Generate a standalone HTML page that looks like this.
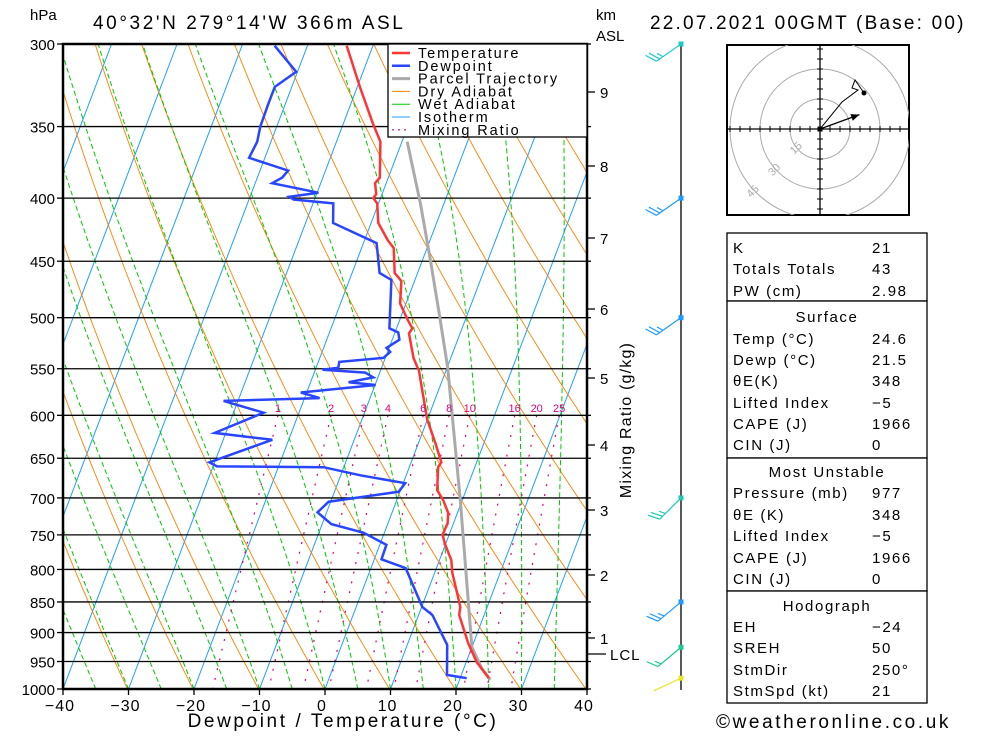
<!DOCTYPE html>
<html><head><meta charset="utf-8"><style>
html,body{margin:0;padding:0;background:#fff;}
body{width:1000px;height:733px;overflow:hidden;position:relative;font-family:"Liberation Sans",sans-serif;}
svg text{font-family:"Liberation Sans",sans-serif;}
</style></head><body>
<svg id="chart" width="1000" height="733" viewBox="0 0 1000 733" xmlns="http://www.w3.org/2000/svg">
<defs><clipPath id="plotclip"><rect x="63" y="44" width="524" height="645"/></clipPath>
<clipPath id="hodoclip"><rect x="727" y="45" width="182" height="170"/></clipPath></defs>
<g id="bg" clip-path="url(#plotclip)"></g>
<g id="series" clip-path="url(#plotclip)"></g>
<g id="axes"></g>
<g id="legend"></g>
<g id="barbs"></g>
<g id="hodo"></g>
<g id="tables"></g>
</svg>
<script>
// ---------- data ----------
const pressureLevels = [300,350,400,450,500,550,600,650,700,750,800,850,900,950,1000];
const tempTicks = [-40,-30,-20,-10,0,10,20,30,40];
const kmLabels = [9,8,7,6,5,4,3,2,1];
const kmY = [92,166,238,309,378,445,510,575,638];
const mixRatios = [1,2,3,4,6,8,10,16,20,25];
const tempP = [301,325,348,360,385,389,397,400,404,419,433,439,460,467,487,502,510,515,539,549,551,575,605,632,655,661,690,703,720,734,750,764,786,805,836,858,871,918,951,980];
const tempT = [-34.0,-29.6,-25.5,-23.3,-21.3,-21.7,-20.9,-21.1,-20.2,-18.9,-16.4,-15.1,-13.5,-12.0,-10.9,-8.8,-7.6,-7.8,-5.7,-4.5,-4.2,-2.3,0.0,2.6,4.6,4.4,5.6,7.1,8.6,9.1,9.0,10.0,11.8,12.7,14.6,15.9,16.2,19.2,21.6,24.4];
const dewP = [301,316,325,336,350,360,371,380,385,389,396,399,401,404,419,435,460,466,510,514,521,529,533,539,543,549,551,554,559,564,567,575,581,584,597,620,628,655,660,661,671,681,692,705,719,735,747,764,785,798,858,871,921,974,980];
const dewT = [-45.0,-40.2,-42.6,-42.6,-42.5,-42.1,-42.4,-35.7,-36.2,-37.4,-29.8,-34.0,-33.2,-26.9,-25.8,-18.0,-15.8,-13.6,-11.1,-9.5,-8.9,-10.4,-9.6,-10.3,-16.8,-16.6,-18.9,-12.2,-10.7,-14.2,-9.9,-20.9,-17.7,-32.2,-25.4,-31.7,-22.5,-30.8,-29.4,-13.1,-7.0,0.3,-0.2,-10.3,-11.4,-8.6,-3.2,1.0,1.1,5.3,10.1,12.1,16.1,17.8,21.0];
const parcelP = [983,962,925,836,703,549,499,449,404,360];
const parcelT = [24.7,22.7,20.0,16.2,9.7,0.1,-4.1,-8.8,-13.6,-19.2];
const barbP = [300,400,500,700,850,925,980];
const barbDir = [235,235,235,225,230,230,245];
const barbSpd = [25,25,25,25,25,15,5];
const barbCol = ["#20c8c8","#1e9bff","#1e9bff","#20c8b4","#1e9bff","#20c896","#e6e628"];
const hodoU = [0,11,19,16,17.5,22];
const hodoV = [0,13.5,19.5,20.5,24.5,18];
const stormU = [19.7];
const stormV = [7.2];

// ---------- scales ----------
const NS="http://www.w3.org/2000/svg";
function yP(p){return 44+Math.log(p/300)/Math.log(1000/300)*645;}
function xT(T,p){return 325+6.55*T+0.38*(689-yP(p));}
function el(tag,attrs,parent,text){const e=document.createElementNS(NS,tag);for(const k in attrs)e.setAttribute(k,attrs[k]);if(text!==undefined)e.textContent=text;parent.appendChild(e);return e;}
const bg=document.getElementById('bg'), series=document.getElementById('series'), axes=document.getElementById('axes');
function pathFrom(ps,ts){return ps.map((p,i)=>(i?'L':'M')+xT(ts[i],p).toFixed(1)+' '+yP(p).toFixed(1)).join(' ');}

// isotherms
for(let T=-120;T<=40;T+=10){const d='M'+xT(T,1000)+' '+yP(1000)+' L'+xT(T,300)+' '+yP(300);
 const e=el('path',{d:d,stroke:'#1ea0ff','stroke-width':1,fill:'none'},bg);
 }
// dry adiabats
for(let th=223;th<=523;th+=10){let ps=[],ts=[];for(let p=300;p<=1000;p+=10){ps.push(p);ts.push(th*Math.pow(p/1000,0.2857)-273.15);}
 const e=el('path',{d:pathFrom(ps,ts),stroke:'#ff8000','stroke-width':0.9,fill:'none'},bg);
 }
// wet adiabats
function es(T){return 6.112*Math.exp(17.67*T/(T+243.5));}
for(let T0=-40;T0<=40;T0+=5){let T=T0,ps=[1000],ts=[T0];
 for(let p=1000;p>300;p-=5){const Tk=T+273.15,rs=0.622*es(T)/(p-es(T));
  const dTdp=(287*Tk+2.5e6*rs)/(p*(1004+2.5e6*2.5e6*rs*0.622/(287*Tk*Tk)));T-=dTdp*5;ps.push(p-5);ts.push(T);}
 const e=el('path',{d:pathFrom(ps,ts),stroke:'#00c800','stroke-width':1,fill:'none','stroke-dasharray':'5,3'},bg);
 }
// mixing ratio
function tdFromW(w,p){const e=w*p/(622+w);const l=Math.log(e/6.112);return 243.5*l/(17.67-l);}
mixRatios.forEach(w=>{let ps=[],ts=[];for(let p=600;p<=1000;p+=10){ps.push(p);ts.push(tdFromW(w,p));}
 const e=el('path',{d:pathFrom(ps,ts),stroke:'#e0007a','stroke-width':1.2,fill:'none','stroke-dasharray':'2,8'},bg);
 
 const t=el('text',{x:xT(tdFromW(w,600),600),y:412,'font-size':11,fill:'#e0007a','text-anchor':'middle'},axes,String(w));
 });
// pressure lines
pressureLevels.forEach(p=>{const y=yP(p);
 const l=el('line',{x1:63,x2:587,y1:y,y2:y,stroke:'#000','stroke-width':1.3},bg);
 
 el('line',{x1:57,x2:63,y1:y,y2:y,stroke:'#000','stroke-width':1.3},axes);
 el('line',{x1:587,x2:591,y1:y,y2:y,stroke:'#000','stroke-width':1.3},axes);
 const t=el('text',{x:55,y:y+6,'font-size':15,'text-anchor':'end'},axes,String(p));
 });
// series
let e1=el('path',{d:pathFrom(parcelP,parcelT),stroke:'#aaaaaa','stroke-width':3,fill:'none'},series);

let e2=el('path',{d:pathFrom(tempP,tempT),stroke:'#ff3535','stroke-width':2.5,fill:'none'},series);

let e3=el('path',{d:pathFrom(dewP,dewT),stroke:'#2846ff','stroke-width':2.5,fill:'none'},series);

// frame
el('rect',{x:63,y:44,width:524,height:645,fill:'none',stroke:'#000','stroke-width':2.5},axes);
tempTicks.forEach(T=>{const x=xT(T,1000);el('line',{x1:x,x2:x,y1:689,y2:695,stroke:'#000','stroke-width':1.3},axes);
 const t=el('text',{x:x-3,y:711,'font-size':16,'text-anchor':'middle','letter-spacing':'1'},axes,(T<0?'\u2212':'')+Math.abs(T));
 });
kmLabels.forEach((k,i)=>{el('line',{x1:587,x2:595,y1:kmY[i],y2:kmY[i],stroke:'#000','stroke-width':1.3},axes);
 const t=el('text',{x:600,y:kmY[i]+6,'font-size':15},axes,String(k));
 });
el('line',{x1:587,x2:606,y1:654,y2:654,stroke:'#000','stroke-width':1.3},axes);
let lt=el('text',{x:610,y:660,'font-size':15,'letter-spacing':'1'},axes,'LCL');
function txt(x,y,s,size,name,extra){const t=el('text',Object.assign({x:x,y:y,'font-size':size},extra||{}),axes,s);return t;}
txt(30,20,'hPa',15,'y-axis-unit');
txt(93,29,"40°32'N  279°14'W  366m  ASL",19,'location-title',{'xml:space':'preserve','letter-spacing':'2.6'});
txt(650,29,'22.07.2021  00GMT  (Base: 00)',19,'date-title',{'xml:space':'preserve','letter-spacing':'2.2'});
txt(596,20,'km',15,'km-axis-unit');txt(596,41,'ASL',15,'km-axis-unit-asl');
txt(343,727,'Dewpoint / Temperature (°C)',19,'x-axis-title',{'text-anchor':'middle','letter-spacing':'2.6'});
txt(0,0,'Mixing Ratio (g/kg)',16,'mixing-ratio-axis-title',{transform:'translate(631,420) rotate(-90)','text-anchor':'middle','letter-spacing':'1.2'});
txt(716,728,'©weatheronline.co.uk',19,'copyright',{'letter-spacing':'2.6'});
// legend
const lg=document.getElementById('legend');
el('rect',{x:388,y:44,width:199,height:93,fill:'#fff',stroke:'#000','stroke-width':1.3},lg);
const legNames=['Temperature','Dewpoint','Parcel Trajectory','Dry Adiabat','Wet Adiabat','Isotherm','Mixing Ratio'];
const legCols=['#ff3535','#2846ff','#aaaaaa','#ff8000','#00c800','#1ea0ff','#e0007a'];
const legW=[2.5,2.5,3,1,1,1,1.2];
legNames.forEach((n,i)=>{const y=53+i*12.8;
 el('line',{x1:392,x2:410,y1:y,y2:y,stroke:legCols[i],'stroke-width':legW[i],'stroke-dasharray':i==6?'2,4':'none'},lg);
 const t=el('text',{x:418,y:y+5,'font-size':14.5,'letter-spacing':'1.9'},lg,n);
 });
// barbs
const bb=document.getElementById('barbs');
el('line',{x1:681,x2:681,y1:44,y2:690,stroke:'#000','stroke-width':1.3},bb);
barbP.forEach((p,i)=>{const y=yP(p),x=681,c=barbCol[i],a=barbDir[i]*Math.PI/180;
 const sx=Math.sin(a),sy=-Math.cos(a),L=30;const ex=x+sx*L,ey=y+sy*L;
 const g=el('g',{},bb);
 el('line',{x1:x,y1:y,x2:ex,y2:ey,stroke:c,'stroke-width':1.2},g);
 el('rect',{x:x-2.5,y:y-2.5,width:5,height:5,fill:c},g);
 let s=barbSpd[i],k=0;const px=-sy,py=sx;
 const fx=px+sx*0.5,fy=py+sy*0.5;
 while(s>=10){const bx=ex-sx*k*4,by=ey-sy*k*4;el('line',{x1:bx,y1:by,x2:bx+fx*11,y2:by+fy*11,stroke:c,'stroke-width':1.2},g);s-=10;k++;}
 if(s>=5&&barbSpd[i]>5){const bx=ex-sx*k*4,by=ey-sy*k*4;el('line',{x1:bx,y1:by,x2:bx+fx*6,y2:by+fy*6,stroke:c,'stroke-width':1.2},g);}
});
// hodograph
const hg=document.getElementById('hodo');const cx=820,cy=129,sc=2;
el('rect',{x:727,y:45,width:182,height:170,fill:'#fff',stroke:'#000','stroke-width':2},hg);
const rg=el('g',{'clip-path':'url(#hodoclip)'},hg);
[15,30,45].forEach(r=>{el('circle',{cx:cx,cy:cy,r:r*sc,fill:'none',stroke:'#aaa','stroke-width':1},rg);
 const t=el('text',{x:0,y:0,'font-size':11,fill:'#aaa','text-anchor':'middle',transform:`translate(${cx-r*sc*0.72},${cy+r*sc*0.72}) rotate(-45)`},rg,String(r));
 });
el('line',{x1:727,x2:909,y1:cy,y2:cy,stroke:'#000','stroke-width':1.3},rg);
el('line',{x1:cx,x2:cx,y1:45,y2:215,stroke:'#000','stroke-width':1.3},rg);
for(let k=-45;k<=45;k+=5){if(!k)continue;el('line',{x1:cx+k*sc,x2:cx+k*sc,y1:cy-3,y2:cy+3,stroke:'#000'},rg);el('line',{x1:cx-3,x2:cx+3,y1:cy+k*sc,y2:cy+k*sc,stroke:'#000'},rg);}
txt(732,58,'kt',12,'hodograph-unit');
let hp=el('path',{d:hodoU.map((u,i)=>(i?'L':'M')+(cx+u*sc)+' '+(cy-hodoV[i]*sc)).join(' '),stroke:'#000','stroke-width':1,fill:'none'},hg);

el('circle',{cx:cx+hodoU[hodoU.length-1]*sc,cy:cy-hodoV[hodoV.length-1]*sc,r:2.5,fill:'#000'},hg);
el('rect',{x:cx-2.5,y:cy-2.5,width:5,height:5,fill:'#000'},hg);
const sxp=cx+stormU[0]*sc,syp=cy-stormV[0]*sc;
el('line',{x1:cx,y1:cy,x2:sxp,y2:syp,stroke:'#000','stroke-width':1.3},hg);
const ang=Math.atan2(syp-cy,sxp-cx);
el('path',{d:`M${sxp} ${syp} L${sxp-9*Math.cos(ang-0.4)} ${syp-9*Math.sin(ang-0.4)} L${sxp-9*Math.cos(ang+0.4)} ${syp-9*Math.sin(ang+0.4)} Z`,fill:'#000'},hg);
// tables
const tb=document.getElementById('tables');
[[233,301],[301,458],[458,591],[591,703]].forEach(b=>el('rect',{x:727,y:b[0],width:200,height:b[1]-b[0],fill:'#fff',stroke:'#000','stroke-width':1.3},tb));
const rows=[
 ['K','21',247],['Totals Totals','43',268],['PW (cm)','2.98',290],
 ['Temp (°C)','24.6',338],['Dewp (°C)','21.5',359],['θE(K)','348',380],['Lifted Index','\u22125',402],['CAPE (J)','1966',423],['CIN (J)','0',444],
 ['Pressure (mb)','977',492],['θE (K)','348',514],['Lifted Index','\u22125',535],['CAPE (J)','1966',557],['CIN (J)','0',578],
 ['EH','\u221224',626],['SREH','50',647],['StmDir','250°',669],['StmSpd (kt)','21',690]];
rows.forEach(r=>{const t=el('text',{x:733,y:r[2]+6,'font-size':15,'letter-spacing':'1.6'},tb,r[0]);
 const v=el('text',{x:872,y:r[2]+6,'font-size':15,'letter-spacing':'1.6'},tb,r[1]);});
[['Surface',316],['Most Unstable',471],['Hodograph',605]].forEach(h=>{const t=el('text',{x:827,y:h[1]+6,'font-size':15,'text-anchor':'middle','letter-spacing':'1.6'},tb,h[0]);});
</script>
</body></html>
